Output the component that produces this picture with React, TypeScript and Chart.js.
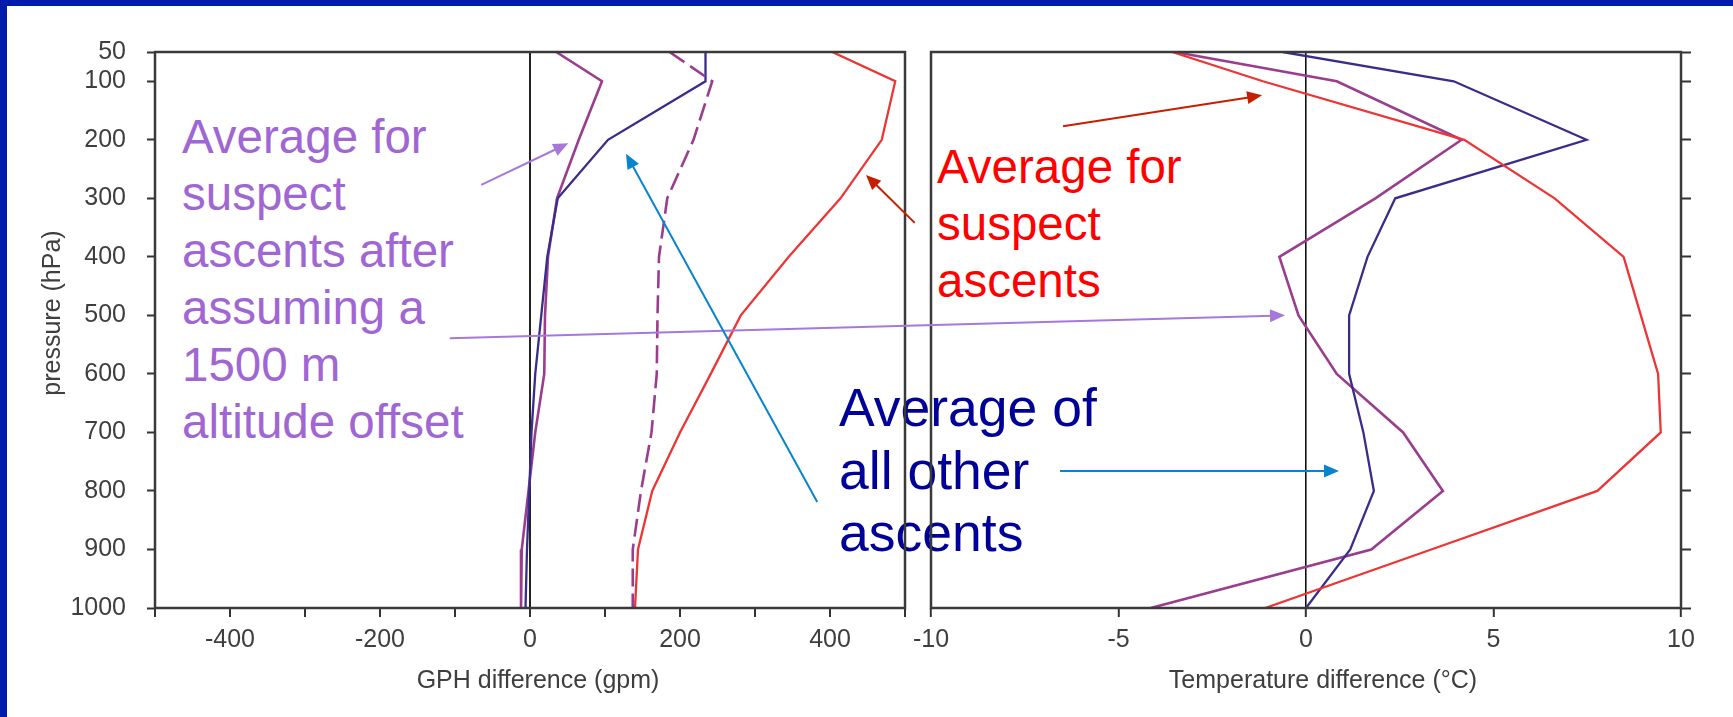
import React, { useEffect, useRef } from 'react';
import { Chart, registerables } from 'chart.js';

Chart.register(...registerables);

const FONT = "'Liberation Sans', Arial, Helvetica, sans-serif";

// ---------- data ----------
const pressureLevels = [50, 100, 200, 300, 400, 500, 600, 700, 800, 900, 1000];
const pressureTicks = [50, 100, 200, 300, 400, 500, 600, 700, 800, 900, 1000];

// GPH difference (gpm)
const gphSuspect = [403, 487, 469, 414, 345, 281, 241, 200, 163, 144, 140];
const gphSuspectOffset = [35, 96, 65, 36, 24, 20, 19, 7, -2, -11, -12];
const gphSuspectOffsetDashed = [186, 243, 218, 183, 172, 170, 169, 162, 148, 137, 137];
const gphOther = [234, 234, 104, 37, 23, 15, 7, 2, -1, -4, -6];

// Temperature difference (°C)
const tempSuspect = [-3.57, -1.15, 4.22, 6.63, 8.47, 8.93, 9.39, 9.46, 7.77, 3.34, -1.09];
const tempSuspectOffset = [-3.5, 0.82, 4.15, 1.85, -0.71, -0.2, 0.82, 2.59, 3.65, 1.74, -4.14];
const tempOther = [-0.62, 3.94, 7.48, 2.38, 1.64, 1.15, 1.15, 1.53, 1.81, 1.18, 0];

const gphRange = [-500, 500];
const gphStep = 100;
const tempRange = [-10, 10];
const tempStep = 5;

// ---------- styles ----------
const RED = '#EE3535';
const NAVY_LINE = '#3A2D8A';
const PURPLE_LINE = '#9A3D8E';
const FRAME = '#3a3a3a';
const TICK_TXT = '#3e3e3e';

const LEFT_CANVAS_X = 0;
const LEFT_CANVAS_W = 920;
const RIGHT_CANVAS_X = 880;
const RIGHT_CANVAS_W = 853;
const H = 717;

type Pt = { panel: 'gph' | 'temp'; v: number; p: number };
const arrows: { color: string; from: Pt; to: Pt }[] = [
  { color: '#A678DA', from: { panel: 'gph', v: -65, p: 277 }, to: { panel: 'gph', v: 51, p: 206 } },
  { color: '#A678DA', from: { panel: 'gph', v: -107, p: 539 }, to: { panel: 'temp', v: -0.56, p: 500 } },
  { color: '#0884CF', from: { panel: 'gph', v: 383, p: 819 }, to: { panel: 'gph', v: 128, p: 224 } },
  { color: '#0884CF', from: { panel: 'temp', v: -6.56, p: 766 }, to: { panel: 'temp', v: 0.88, p: 766 } },
  { color: '#C81E00', from: { panel: 'temp', v: -6.48, p: 177 }, to: { panel: 'temp', v: -1.17, p: 124 } },
  { color: '#C81E00', from: { panel: 'gph', v: 513, p: 342 }, to: { panel: 'gph', v: 448, p: 260 } },
];

function toPoints(values: number[]) {
  return pressureLevels.map((p, i) => ({ x: values[i], y: p }));
}

function lineDs(values: number[], color: string, width: number, dash?: number[]) {
  return {
    data: toPoints(values),
    borderColor: color,
    backgroundColor: color,
    borderWidth: width,
    borderDash: dash || [],
    pointRadius: 0,
    showLine: true,
    fill: false,
    tension: 0,
  };
}

const decorPlugin = {
  id: 'panelDecor',
  afterDraw(chart: any, _args: any, opts: any) {
    const { ctx, chartArea: a } = chart;
    ctx.save();
    ctx.strokeStyle = FRAME;
    ctx.lineWidth = 2.5;
    ctx.strokeRect(a.left, a.top, a.right - a.left, a.bottom - a.top);
    ctx.fillStyle = TICK_TXT;
    ctx.font = `25px ${FONT}`;
    ctx.textAlign = 'center';
    ctx.textBaseline = 'middle';
    if (opts.xTitle) {
      ctx.fillText(opts.xTitle, (a.left + a.right) / 2 + opts.xTitleShift, a.bottom + opts.xTitleGap);
    }
    if (opts.yTitle) {
      ctx.translate(opts.yTitleX, (a.top + a.bottom) / 2 + opts.yTitleShift);
      ctx.rotate(-Math.PI / 2);
      ctx.fillText(opts.yTitle, 0, 0);
    }
    ctx.restore();
  },
};

function pressureScale(position: 'left' | 'right', width: number, showLabels: boolean, tickLength: number) {
  return {
    type: 'linear',
    position,
    min: pressureTicks[0],
    max: pressureTicks[pressureTicks.length - 1],
    reverse: true,
    afterFit: (s: any) => {
      s.width = width;
    },
    afterBuildTicks: (s: any) => {
      s.ticks = pressureTicks.map((v) => ({ value: v }));
    },
    ticks: {
      display: showLabels,
      autoSkip: false,
      padding: 21,
      color: TICK_TXT,
      font: { size: 25, family: FONT },
      callback: (v: any) => String(v),
    },
    grid: { drawOnChartArea: false, tickColor: '#333', tickWidth: 2, tickLength },
    border: { display: false },
  };
}

function valueScale(range: number[], step: number, zeroColor: string, zeroWidth: number, labelFn: (v: number) => string) {
  return {
    type: 'linear',
    position: 'bottom',
    min: range[0],
    max: range[1],
    afterFit: (s: any) => {
      s.height = 100;
    },
    ticks: {
      stepSize: step,
      autoSkip: false,
      maxRotation: 0,
      minRotation: 0,
      padding: 8,
      color: TICK_TXT,
      font: { size: 25, family: FONT },
      callback: (v: any) => labelFn(Number(v)),
    },
    grid: {
      drawOnChartArea: true,
      color: (c: any) => (c.tick && c.tick.value === 0 ? zeroColor : 'rgba(0,0,0,0)'),
      lineWidth: zeroWidth,
      tickColor: '#333',
      tickWidth: 2,
      tickLength: 9,
    },
    border: { display: false },
  };
}

function drawArrow(ctx: CanvasRenderingContext2D, x1: number, y1: number, x2: number, y2: number, color: string) {
  const ang = Math.atan2(y2 - y1, x2 - x1);
  const L = 15;
  const W = 6.5;
  const c = Math.cos(ang);
  const s = Math.sin(ang);
  ctx.save();
  ctx.strokeStyle = color;
  ctx.fillStyle = color;
  ctx.lineWidth = 2;
  ctx.beginPath();
  ctx.moveTo(x1, y1);
  ctx.lineTo(x2 - c * L * 0.8, y2 - s * L * 0.8);
  ctx.stroke();
  const bx = x2 - c * L;
  const by = y2 - s * L;
  ctx.beginPath();
  ctx.moveTo(x2, y2);
  ctx.lineTo(bx - s * W, by + c * W);
  ctx.lineTo(bx + s * W, by - c * W);
  ctx.closePath();
  ctx.fill();
  ctx.restore();
}

export default function App() {
  const leftRef = useRef<HTMLCanvasElement>(null);
  const rightRef = useRef<HTMLCanvasElement>(null);
  const overlayRef = useRef<HTMLCanvasElement>(null);

  useEffect(() => {
    const left = new Chart(leftRef.current as HTMLCanvasElement, {
      type: 'scatter',
      data: {
        datasets: [
          lineDs(gphSuspect, RED, 2.3),
          lineDs(gphSuspectOffsetDashed, PURPLE_LINE, 2.6, [18, 7]),
          lineDs(gphOther, NAVY_LINE, 2.3),
          lineDs(gphSuspectOffset, PURPLE_LINE, 2.6),
        ] as any,
      },
      options: {
        responsive: false,
        maintainAspectRatio: false,
        devicePixelRatio: 1,
        animation: false,
        layout: { padding: { left: 0, top: 52, right: 15, bottom: 9 } },
        plugins: {
          legend: { display: false },
          tooltip: { enabled: false },
          panelDecor: {
            xTitle: 'GPH difference (gpm)',
            xTitleShift: 8,
            xTitleGap: 73,
            yTitle: 'pressure (hPa)',
            yTitleX: 53,
            yTitleShift: -17,
          },
        } as any,
        scales: {
          x: valueScale(gphRange, gphStep, '#222', 2, (v) => (v % 200 === 0 ? String(v) : '')),
          y: pressureScale('left', 155, true, 8),
        } as any,
      },
      plugins: [decorPlugin],
    });

    const right = new Chart(rightRef.current as HTMLCanvasElement, {
      type: 'scatter',
      data: {
        datasets: [
          lineDs(tempSuspect, RED, 2.3),
          lineDs(tempOther, NAVY_LINE, 2.3),
          lineDs(tempSuspectOffset, PURPLE_LINE, 2.6),
        ] as any,
      },
      options: {
        responsive: false,
        maintainAspectRatio: false,
        devicePixelRatio: 1,
        animation: false,
        layout: { padding: { left: 51, top: 52, right: 32, bottom: 9 } },
        plugins: {
          legend: { display: false },
          tooltip: { enabled: false },
          panelDecor: {
            xTitle: 'Temperature difference (°C)',
            xTitleShift: 17,
            xTitleGap: 73,
          },
        } as any,
        scales: {
          x: valueScale(tempRange, tempStep, '#111', 1.6, (v) => String(v)),
          y: pressureScale('right', 20, false, 10),
        } as any,
      },
      plugins: [decorPlugin],
    });

    const oc = overlayRef.current as HTMLCanvasElement;
    const octx = oc.getContext('2d') as CanvasRenderingContext2D;
    octx.clearRect(0, 0, oc.width, oc.height);
    const toPx = (pt: Pt) => {
      const ch: any = pt.panel === 'gph' ? left : right;
      const off = pt.panel === 'gph' ? LEFT_CANVAS_X : RIGHT_CANVAS_X;
      return { x: ch.scales.x.getPixelForValue(pt.v) + off, y: ch.scales.y.getPixelForValue(pt.p) };
    };
    arrows.forEach((a) => {
      const f = toPx(a.from);
      const t = toPx(a.to);
      drawArrow(octx, f.x, f.y, t.x, t.y, a.color);
    });

    return () => {
      left.destroy();
      right.destroy();
    };
  }, []);

  const textBase: React.CSSProperties = {
    position: 'absolute',
    fontFamily: FONT,
    whiteSpace: 'pre',
    margin: 0,
  };

  return (
    <div
      style={{
        position: 'fixed',
        left: 0,
        top: 0,
        width: 1733,
        height: H,
        background: '#ffffff',
        overflow: 'hidden',
      }}
    >
      <div style={{ position: 'absolute', left: 0, top: 0, width: 1733, height: 6, background: '#001CAA' }} />
      <div style={{ position: 'absolute', left: 0, top: 0, width: 7, height: H, background: '#001CAA' }} />

      <div style={{ ...textBase, left: 182, top: 108, fontSize: 47.5, lineHeight: '57px', color: '#A066D3' }}>
        {'Average for\nsuspect\nascents after\nassuming a\n1500 m\naltitude offset'}
      </div>
      <div style={{ ...textBase, left: 937, top: 138, fontSize: 47.5, lineHeight: '57px', color: '#FF0000' }}>
        {'Average for\nsuspect\nascents'}
      </div>
      <div style={{ ...textBase, left: 839, top: 377, fontSize: 53.5, lineHeight: '62.5px', color: '#000099' }}>
        {'Average of\nall other\nascents'}
      </div>

      <canvas
        ref={leftRef}
        width={LEFT_CANVAS_W}
        height={H}
        style={{ position: 'absolute', left: LEFT_CANVAS_X, top: 0, width: LEFT_CANVAS_W, height: H }}
      />
      <canvas
        ref={rightRef}
        width={RIGHT_CANVAS_W}
        height={H}
        style={{ position: 'absolute', left: RIGHT_CANVAS_X, top: 0, width: RIGHT_CANVAS_W, height: H }}
      />
      <canvas
        ref={overlayRef}
        width={1733}
        height={H}
        style={{ position: 'absolute', left: 0, top: 0, width: 1733, height: H, pointerEvents: 'none' }}
      />
    </div>
  );
}
